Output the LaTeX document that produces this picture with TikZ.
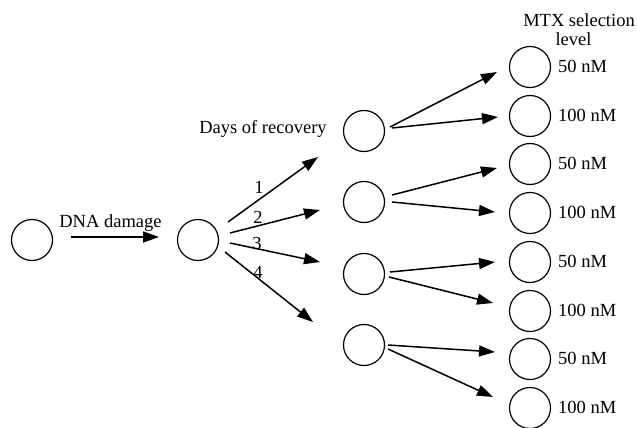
\documentclass[tikz,border=0pt]{standalone}
\usepackage{fontspec}
\setmainfont{Liberation Serif}
\usetikzlibrary{arrows.meta}
\begin{document}
\begin{tikzpicture}[x=1pt,y=-1pt,
  cell/.style={circle,draw,line width=1.2pt,minimum size=41pt,inner sep=0pt},
  arr/.style={line width=1.5pt,-{Triangle[length=16pt,width=11pt]}},
  lbl/.style={font=\fontsize{18.5}{22}\selectfont,inner sep=0pt}]
\useasboundingbox (0,0) rectangle (637,428);
% circles
\node[cell] (c0) at (32,240) {};
\node[cell] (c1) at (198,240) {};
\node[cell] (d1) at (364,131) {};
\node[cell] (d2) at (364,202) {};
\node[cell] (d3) at (364,274) {};
\node[cell] (d4) at (364,345) {};
\foreach \i/\y/\t in {1/67/50 nM,2/116/100 nM,3/164/50 nM,4/213/100 nM,5/262/50 nM,6/311/100 nM,7/359/50 nM,8/408/100 nM}{
  \node[cell] (m\i) at (530,\y) {};
  \node[lbl,anchor=base west] (t\i) at (558,\y+5.5) {\t};
}
% texts
\node[lbl,anchor=base] (dna) at (110.5,227) {DNA damage};
\node[lbl,anchor=base] (days) at (263,133) {Days of recovery};
\node[lbl,anchor=base] (mtx) at (579,27) {MTX selection};
\node[lbl,anchor=base] (lev) at (573.5,46) {level};
\node[lbl] (n1) at (259,187) {1};
\node[lbl] (n2) at (258,217) {2};
\node[lbl] (n3) at (257,243) {3};
\node[lbl] (n4) at (258,272) {4};
% arrow end points
\coordinate (s0) at (71,237);   \coordinate (e0) at (159,237);
\coordinate (s1) at (228,222);  \coordinate (e1) at (318,157);
\coordinate (s2) at (230,233);  \coordinate (e2) at (320,210);
\coordinate (s3) at (230,243);  \coordinate (e3) at (320,262);
\coordinate (s4) at (225,252);  \coordinate (e4) at (313,322);
\coordinate (r1s) at (390,127); \coordinate (r1e) at (497,72);
\coordinate (r2s) at (392,128); \coordinate (r2e) at (498,117);
\coordinate (r3s) at (392,195); \coordinate (r3e) at (497,168);
\coordinate (r4s) at (392,202); \coordinate (r4e) at (495,212);
\coordinate (r5s) at (390,272); \coordinate (r5e) at (495,262);
\coordinate (r6s) at (389,277); \coordinate (r6e) at (493,303);
\coordinate (r7s) at (388,345); \coordinate (r7e) at (495,352);
\coordinate (r8s) at (388,349); \coordinate (r8e) at (493,397);
% arrows
\draw[arr] (s0) -- (e0);
\foreach \i in {1,...,4}{\draw[arr] (s\i) -- (e\i);}
\foreach \i in {1,...,8}{\draw[arr] (r\i s) -- (r\i e);}
\end{tikzpicture}
\end{document}
